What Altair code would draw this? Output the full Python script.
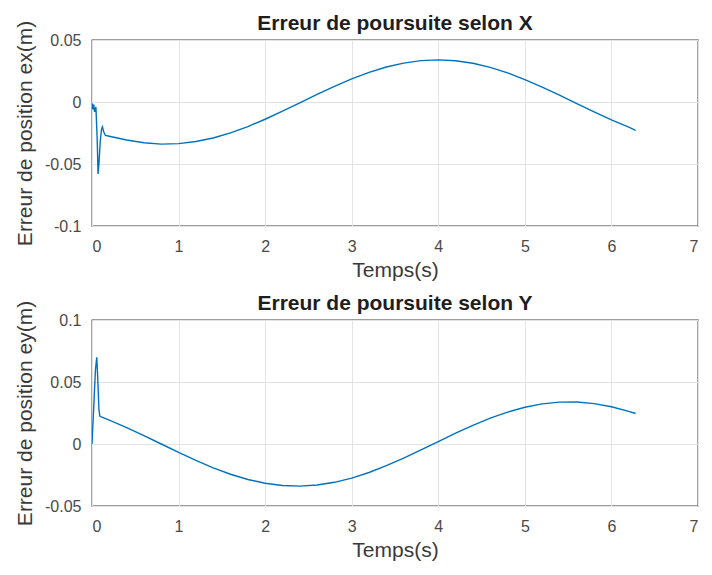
import altair as alt
import pandas as pd

# ---- data ----
t_x = [0, 0.01, 0.02, 0.03, 0.045, 0.06, 0.07, 0.08, 0.095, 0.11, 0.12, 0.135, 0.155,
       0.2, 0.4, 0.6, 0.8, 1.0, 1.2, 1.4, 1.6, 1.8, 2.0, 2.2, 2.4, 2.6, 2.8, 3.0,
       3.2, 3.4, 3.6, 3.8, 4.0, 4.2, 4.4, 4.6, 4.8, 5.0, 5.2, 5.4, 5.6, 5.8, 6.0,
       6.2, 6.28]
ex = [-0.001, -0.006, -0.002, -0.008, -0.004, -0.030, -0.058, -0.050, -0.032, -0.022,
      -0.020, -0.024, -0.027,
      -0.0276, -0.0306, -0.0329, -0.0340, -0.0336, -0.0319, -0.0290, -0.0249, -0.0198,
      -0.0139, -0.0074, -0.0007, 0.0061, 0.0126, 0.0186, 0.0239, 0.0282, 0.0314,
      0.0334, 0.0340, 0.0333, 0.0312, 0.0279, 0.0235, 0.0181, 0.0120, 0.0055,
      -0.0013, -0.0080, -0.0144, -0.0203, -0.0228]

t_y = [0, 0.02, 0.04, 0.055, 0.065, 0.08, 0.09, 0.12,
       0.2, 0.4, 0.6, 0.8, 1.0, 1.2, 1.4, 1.6, 1.8, 2.0, 2.2, 2.4, 2.6, 2.8, 3.0,
       3.2, 3.4, 3.6, 3.8, 4.0, 4.2, 4.4, 4.6, 4.8, 5.0, 5.2, 5.4, 5.6, 5.8, 6.0,
       6.2, 6.28]
ey = [0.0, 0.030, 0.060, 0.070, 0.055, 0.028, 0.0225, 0.0215,
      0.0192, 0.0132, 0.0068, 0.0, -0.0068, -0.0132, -0.0192, -0.0244, -0.0286,
      -0.0317, -0.0335, -0.0340, -0.0331, -0.0309, -0.0275, -0.0230, -0.0175,
      -0.0114, -0.0048, 0.0020, 0.0087, 0.0151, 0.0208, 0.0257, 0.0296, 0.0324,
      0.0338, 0.0339, 0.0326, 0.0300, 0.0263, 0.0246]

x_ticks = [0, 1, 2, 3, 4, 5, 6, 7]
yx_ticks = [-0.1, -0.05, 0, 0.05]
yy_ticks = [-0.05, 0, 0.05, 0.1]

titles = ["Erreur de poursuite selon X", "Erreur de poursuite selon Y"]
ytitles = ["Erreur de position ex(m)", "Erreur de position ey(m)"]
xtitle = "Temps(s)"

FONT = "Liberation Sans"
BLUE = "#0072BD"


def panel(t, v, title, ytitle, ydomain, yticks):
    df = pd.DataFrame({"t": t, "v": v})
    return (
        alt.Chart(df, title=alt.Title(title))
        .mark_line(color=BLUE, strokeWidth=1.4, clip=True)
        .encode(
            x=alt.X("t:Q", scale=alt.Scale(domain=[0, 7], nice=False),
                    axis=alt.Axis(values=x_ticks, title=xtitle, format="d")),
            y=alt.Y("v:Q", scale=alt.Scale(domain=ydomain, nice=False, zero=False),
                    axis=alt.Axis(values=yticks, title=ytitle,
                                  labelExpr="'' + datum.value")),
        )
        .properties(width=606, height=186)
    )


top = panel(t_x, ex, titles[0], ytitles[0], [-0.1, 0.05], yx_ticks)
bottom = panel(t_y, ey, titles[1], ytitles[1], [-0.05, 0.1], yy_ticks)

chart = (
    alt.vconcat(top, bottom, spacing=11)
    .properties(padding={"left": 5, "top": 4, "right": 0, "bottom": 0},
                background="white")
    .configure_axis(
        labelFont=FONT, labelFontSize=16, labelColor="#4a4a4a",
        titleFont=FONT, titleFontSize=21, titleFontWeight="normal",
        titleColor="#3a3a3a",
        gridColor="#e3e3e3", gridWidth=1,
        domain=False, ticks=False,
    )
    .configure_axisX(labelPadding=12, titlePadding=5)
    .configure_axisY(labelPadding=11, titlePadding=9)
    .configure_view(stroke="#3c3c3c", strokeWidth=1.3)
    .configure_title(font=FONT, fontSize=21, fontWeight="bold",
                     color="#1e1e1e", anchor="middle", offset=-14)
)

chart.save("out.html", embed_options={"renderer": "svg", "actions": False})
